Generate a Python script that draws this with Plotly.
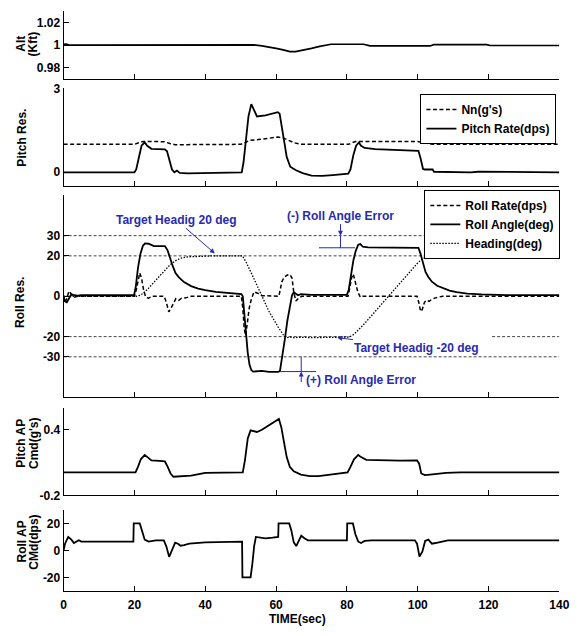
import plotly.graph_objects as go

W, H = 585, 636
FONT = "Liberation Sans, Arial, sans-serif"
BLUE = "#2a2ab0"

# ---------------- time histories ----------------
ALT_T = [0, 0.8, 1.6, 14.5, 15, 20.8, 21.3, 33.3, 33.8, 50.5, 51.5, 53.7, 56, 58, 60, 62, 63.9,
         65.5, 67.5, 70, 72, 74, 75.5, 84.7, 86.5, 103.5, 104.5, 119.5, 120.5, 140]
ALT_V = [1.0006, 1.0008, 1.0, 1.0, 1.0005, 1.0005, 1.0, 1.0, 1.0005, 1.0005, 1.0002, 1.0002,
         0.9993, 0.9984, 0.9972, 0.9958, 0.9944, 0.9944, 0.9955, 0.9972, 0.9987, 0.9998,
         1.0008, 1.0008, 0.9993, 0.9993, 1.0004, 1.0004, 0.9997, 0.9997]

NN_T = [0, 20, 21, 22.5, 27, 28.5, 30, 31.5, 35, 40, 50, 51, 52.5, 55, 58, 60.5, 62, 63.5,
        65, 67, 75, 80.5, 81.5, 82.5, 90, 100, 101.5, 103, 104.5, 140]
NN_V = [1.0, 1.0, 1.05, 1.1, 1.1, 1.09, 1.03, 0.99, 0.99, 1.0, 1.0, 1.05, 1.14, 1.17, 1.22,
        1.26, 1.23, 1.14, 1.06, 1.0, 1.0, 1.0, 1.06, 1.1, 1.1, 1.1, 1.07, 1.02, 1.0, 1.0]

PR_T = [0, 20, 20.5, 21.3, 22, 22.9, 23.6, 24.8, 28.6, 29.2, 29.8, 30.6, 31.3, 32, 32.8, 35,
        39, 45, 50.3, 50.8, 51.5, 52.2, 53, 53.6, 54.6, 57, 60.5, 61, 61.6, 62.3, 63, 64,
        65.5, 67.5, 70, 73, 76, 80.4, 81, 81.8, 82.6, 83.4, 84, 85, 88, 95, 100.2, 100.8,
        101.5, 102, 104.2, 104.6, 110, 115, 117, 140]
PR_V = [0, 0, 0.1, 0.55, 0.95, 1.07, 0.95, 0.84, 0.82, 0.75, 0.45, 0.1, 0.0, 0.06, -0.02,
        -0.04, -0.03, 0.0, 0.0, 0.35, 1.2, 2.0, 2.44, 2.25, 2.0, 2.04, 2.15, 2.1, 1.7, 1.1,
        0.55, 0.2, 0.08, -0.03, -0.12, -0.13, -0.1, -0.05, 0.1, 0.6, 0.95, 1.07, 0.95, 0.87,
        0.83, 0.8, 0.77, 0.5, 0.12, 0.1, 0.1, 0.02, 0.0, 0.0, 0.02, 0.0]

RR_T = [0, 0.4, 0.9, 1.5, 2.2, 3, 4, 20, 20.5, 21, 21.5, 22, 22.6, 23.2, 24, 25, 28.4, 29,
        29.7, 30.3, 31, 31.7, 32.5, 33.3, 34.5, 36, 50.2, 50.6, 51, 51.4, 51.9, 52.4, 53,
        53.8, 54.8, 56, 60.8, 61.2, 61.6, 62.3, 63.2, 63.9, 64.5, 65, 65.6, 66.3, 67.3, 70,
        80.3, 80.8, 81.3, 81.8, 82.4, 83.1, 83.8, 84.5, 99.8, 100.3, 100.8, 101.3, 101.9,
        102.5, 103.2, 104, 105, 107, 140]
RR_V = [0, -3, -1, 2.5, 1, -0.5, 0, 0, 3, 8, 11.5, 9, 3, -0.5, -1, 0, 0, -3, -7.7, -6, -3.5,
        -1.2, -2, -1, -0.8, 0, 0, -6, -16, -19.5, -13, -6, -1.5, 2.2, 1.5, 0.3, 0, 3.5, 7,
        9.5, 10.5, 10.8, 9, 2, -2.4, -1, 0, 0, 0, 4, 9, 11, 7, 2, -0.5, 0, 0, -3, -7.5, -6.5,
        -3, -2, -2.5, -1.5, -0.8, 0, 0]

RA_T = [0, 0.4, 0.9, 1.5, 2.2, 3, 4, 5, 19.9, 20.4, 21, 21.7, 22.4, 23, 24, 25.5, 28.6, 29.3,
        30, 30.8, 31.6, 32.5, 34, 36, 38, 40, 43, 46, 50.2, 50.6, 51, 51.5, 52, 52.5, 53,
        53.5, 56, 58, 60.6, 61.1, 61.8, 62.5, 63.2, 63.9, 64.5, 65, 65.5, 66.2, 67, 70, 75,
        80, 80.5, 81.1, 81.8, 82.5, 83.2, 83.8, 84.5, 86, 90, 95, 100.2, 100.8, 101.5,
        102.2, 103, 104, 105.5, 107, 109, 111, 114, 118, 125, 140]
RA_V = [-0.5, -2.5, -3, -1, 1, 0.5, 0.3, 0.5, 0.5, 5, 14, 21, 25, 26.2, 26, 24.8, 24.8, 23,
        19, 15, 11.5, 9.5, 7, 5, 3.8, 3, 2.2, 1.6, 1.1, 0, -8, -19, -28, -34, -36.5, -37.3,
        -37, -37.5, -37.5, -37, -30, -21, -12, -4, 0.5, 2, 1.5, 0.5, 1, 0.7, 0.7, 0.7, 3,
        10, 17.5, 22.5, 25.5, 25.8, 24.5, 24.2, 24.2, 24.2, 24, 21, 16, 12, 9.5, 7.2, 5.2,
        4, 2.8, 2, 1.3, 0.9, 0.6, 0.6]

HD_T = [0, 20.5, 21.5, 22.5, 24, 26, 28, 30, 31.5, 33, 35, 38, 42, 50.5, 51.5, 53, 55.5, 58,
        60.5, 62, 63, 64, 65, 67, 70, 75, 80.5, 81.5, 82.5, 85, 88, 91, 94, 97, 100, 101.5,
        103, 105, 108, 140]
HD_V = [0, 0, 0.4, 1.5, 4, 8, 12, 15.5, 17.5, 18.8, 19.5, 19.8, 20, 20, 17, 11.5, 2, -7.5,
        -15, -19, -20.6, -20.2, -20.5, -20.3, -20.5, -20.3, -20.2, -19.5, -18, -13.5, -7.5,
        -1.5, 4.5, 10.5, 16.5, 18.8, 19.6, 19.9, 20, 20]

PAP_T = [0, 20.3, 21, 21.8, 22.9, 23.6, 24.8, 27, 28.6, 29.4, 30.2, 31, 33, 36, 40, 50.6,
         51.2, 52, 52.8, 53.4, 54.6, 56, 58, 60.8, 61.5, 62.3, 63, 63.9, 65, 67, 69.5, 72,
         76, 80.2, 81, 82, 83.2, 84, 85.5, 90, 95, 99.8, 100.4, 101, 102, 103.5, 105, 108,
         112, 140]
PAP_V = [0.01, 0.01, 0.06, 0.13, 0.17, 0.15, 0.12, 0.115, 0.11, 0.06, 0.0, -0.03, -0.025,
         -0.02, 0.005, 0.01, 0.12, 0.32, 0.395, 0.39, 0.38, 0.40, 0.44, 0.5, 0.42, 0.28,
         0.15, 0.06, 0.02, -0.01, -0.025, -0.025, -0.01, 0.01, 0.06, 0.13, 0.17, 0.15, 0.125,
         0.12, 0.118, 0.12, 0.09, 0.0, -0.015, -0.01, -0.005, 0.005, 0.01, 0.01]

RAP_T = [0, 0.4, 1.3, 2.2, 2.9, 3.6, 4.3, 5, 19.7, 19.8, 21.5, 22.2, 22.9, 24, 26, 28.3, 29,
         29.8, 30.6, 31.5, 32.3, 33, 34, 35.5, 40, 50.4, 50.5, 52.8, 53.3, 53.8, 54.3, 55.5,
         57, 59, 60.6, 60.7, 63.7, 64.3, 65, 65.7, 66.4, 67.1, 68, 69, 72, 80, 80.1, 81.7,
         82.4, 83.2, 84, 85, 87, 99.2, 99.8, 100.5, 101.3, 102.1, 103, 104, 105, 106.5,
         108.5, 140]
RAP_V = [0, 5, 10, 8, 5.5, 6.5, 7.5, 6.5, 6.5, 20, 20, 14, 8, 6.5, 7.5, 7.5, 3, -4.8, 0, 5.8,
         5, 3.5, 4, 5, 6, 6.5, -20, -20, -10, 3, 10, 9.5, 9, 9.5, 10, 20, 20, 15, 6, 3.2, 7,
         11, 9, 7.5, 7.5, 7.5, 20, 20, 12, 6.5, 5.5, 7, 7.5, 7.5, 5, -4.5, -1, 7, 8, 5, 5.5,
         6.5, 7.5, 7.5]

# reference levels in the roll panel (the -20 line breaks behind its label)
REF_LEVELS = [30, 20, -20, -30]
REF_BREAK_LEVEL = -20
REF_BREAK = (81, 121)

# roll angle error markers: (time, from, to) and horizontal bar (t0, t1, level)
ERR_NEG_V = (78.2, 30, 24)
ERR_NEG_H = (72.1, 82.3, 24)
ERR_POS_V = (67.1, -30, -37.3)
ERR_POS_H = (61.1, 71.3, -37.3)

# axis settings per panel
X_TICKS = [0, 20, 40, 60, 80, 100, 120, 140]
Y_RANGES = [[0.97, 1.03], [-0.5, 3], [-50, 50], [-0.2, 0.6], [-30, 30]]
Y_TICKS = [[0.98, 1, 1.02], [0, 3], [-30, -20, 0, 20, 30], [-0.2, 0.4], [-20, 0, 20]]
Y_TICKTEXT = [["0.98", "1", "1.02"], ["0", "3"], ["-30", "-20", "0", "20", "30"],
              ["-0.2", "0.4"], ["-20", "0", "20"]]

# panel placement in pixels (top, bottom) and horizontal span
X_PX = (62, 569)
PANELS_PX = [(4, 74), (83.3, 183.3), (192.5, 399), (410, 499.3), (514.3, 597)]


def py(px):
    return 1 - px / H


fig = go.Figure()

BLACK = "black"
fig.add_trace(go.Scatter(x=ALT_T, y=ALT_V, mode="lines", line=dict(color=BLACK, width=1.7),
                         showlegend=False, xaxis="x", yaxis="y"))

fig.add_trace(go.Scatter(x=NN_T, y=NN_V, mode="lines", name="Nn(g's)",
                         line=dict(color=BLACK, width=1.5, dash="4px,2.5px"),
                         legend="legend", xaxis="x2", yaxis="y2"))
fig.add_trace(go.Scatter(x=PR_T, y=PR_V, mode="lines", name="Pitch Rate(dps)",
                         line=dict(color=BLACK, width=1.8),
                         legend="legend", xaxis="x2", yaxis="y2"))

# dashed reference levels
for lv in REF_LEVELS:
    if lv == REF_BREAK_LEVEL:
        xs = [0, REF_BREAK[0], None, REF_BREAK[1], 140]
        ys = [lv, lv, None, lv, lv]
    else:
        xs = [0, 140]
        ys = [lv, lv]
    fig.add_trace(go.Scatter(x=xs, y=ys, mode="lines", showlegend=False, hoverinfo="skip",
                             line=dict(color="#444444", width=1, dash="3px,2px"),
                             xaxis="x3", yaxis="y3"))

fig.add_trace(go.Scatter(x=RR_T, y=RR_V, mode="lines", name="Roll Rate(dps)",
                         line=dict(color=BLACK, width=1.5, dash="4px,2.5px"),
                         legend="legend2", xaxis="x3", yaxis="y3"))
fig.add_trace(go.Scatter(x=RA_T, y=RA_V, mode="lines", name="Roll Angle(deg)",
                         line=dict(color=BLACK, width=1.8),
                         legend="legend2", xaxis="x3", yaxis="y3"))
fig.add_trace(go.Scatter(x=HD_T, y=HD_V, mode="lines", name="Heading(deg)",
                         line=dict(color=BLACK, width=1.3, dash="1.5px,1.5px"),
                         legend="legend2", xaxis="x3", yaxis="y3"))

fig.add_trace(go.Scatter(x=PAP_T, y=PAP_V, mode="lines", line=dict(color=BLACK, width=1.8),
                         showlegend=False, xaxis="x4", yaxis="y4"))
fig.add_trace(go.Scatter(x=RAP_T, y=RAP_V, mode="lines", line=dict(color=BLACK, width=1.8),
                         showlegend=False, xaxis="x5", yaxis="y5"))

tick_font = dict(family=FONT, size=12, color="black", weight="bold")

layout = dict(
    width=W, height=H, margin=dict(l=0, r=0, t=0, b=0),
    paper_bgcolor="white", plot_bgcolor="white",
    font=dict(family=FONT, size=12, color="black", weight="bold"),
    showlegend=True,
)

x_dom = [X_PX[0] / W, X_PX[1] / W]
for i, (top, bot) in enumerate(PANELS_PX):
    n = "" if i == 0 else str(i + 1)
    layout["xaxis" + n] = dict(
        domain=x_dom, anchor="y" + n, range=[0, 140], tickvals=X_TICKS,
        ticktext=[str(v) for v in X_TICKS], showticklabels=(i == 4),
        ticks="inside", ticklen=5, tickwidth=1, tickcolor="black",
        showline=True, linecolor="black", linewidth=1, mirror=False,
        showgrid=False, zeroline=False, tickfont=tick_font, ticklabelstandoff=3,
    )
    layout["yaxis" + n] = dict(
        domain=[py(bot), py(top)], anchor="x" + n, range=Y_RANGES[i],
        tickvals=Y_TICKS[i], ticktext=Y_TICKTEXT[i],
        ticks="inside", ticklen=5, tickwidth=1, tickcolor="black",
        showline=True, linecolor="black", linewidth=1, mirror=False,
        showgrid=False, zeroline=False, tickfont=tick_font,
    )

legend_style = dict(bgcolor="white", bordercolor="black", borderwidth=1,
                    font=dict(family=FONT, size=12, color="black", weight="bold"),
                    xanchor="right", yanchor="top", tracegroupgap=0, itemwidth=30)
layout["legend"] = dict(x=566 / W, y=py(89), **legend_style)
layout["legend2"] = dict(x=570 / W, y=py(187), **legend_style)

ann = []
lab_font = dict(family=FONT, size=12, color="black", weight="bold")


def ylab(text, xpx, ypx):
    ann.append(dict(text=text, x=xpx / W, y=py(ypx), xref="paper", yref="paper",
                    showarrow=False, textangle=-90, xanchor="center", yanchor="middle",
                    font=lab_font))


ylab("Alt", 19, 38)
ylab("(Kft)", 31, 38)
ylab("Pitch Res.", 19, 134)
ylab("Roll Res.", 18, 302)
ylab("Pitch AP", 19, 446)
ylab("Cmd(g's)", 31.5, 446)
ylab("Roll AP", 19, 547)
ylab("CMd(dps)", 31.5, 547)

ann.append(dict(text="TIME(sec)", x=301 / W, y=py(626), xref="paper", yref="paper",
                showarrow=False, xanchor="center", yanchor="middle", font=lab_font))

blue_font = dict(family=FONT, size=12, color=BLUE, weight="bold")
ann.append(dict(text="Target Headig 20 deg", x=42.7, y=21.2, xref="x3", yref="y3",
                ax=-38.7, ay=-33.7, showarrow=True, arrowhead=2, arrowsize=1,
                arrowwidth=1, arrowcolor=BLUE, font=blue_font, standoff=0))
ann.append(dict(text="Target Headig -20 deg", x=77.3, y=-20.5, xref="x3", yref="y3",
                ax=79, ay=10, showarrow=True, arrowhead=2, arrowsize=1,
                arrowwidth=1, arrowcolor=BLUE, font=blue_font, standoff=0))
ann.append(dict(text="(-) Roll Angle Error", x=ERR_NEG_V[0], y=ERR_NEG_V[1], xref="x3",
                yref="y3", ax=0, ay=-20, showarrow=True, arrowhead=2, arrowsize=1,
                arrowwidth=1, arrowcolor=BLUE, font=blue_font, standoff=0))
ann.append(dict(text="", x=ERR_POS_V[0], y=ERR_POS_V[2], xref="x3", yref="y3",
                ax=0, ay=12, showarrow=True, arrowhead=2, arrowsize=1,
                arrowwidth=1, arrowcolor=BLUE, standoff=0))
ann.append(dict(text="(+) Roll Angle Error", x=84.1, y=-41.3, xref="x3", yref="y3",
                showarrow=False, font=blue_font, xanchor="center", yanchor="middle"))
layout["annotations"] = ann

shapes = []
for (tx, a, b) in (ERR_NEG_V, ERR_POS_V):
    shapes.append(dict(type="line", xref="x3", yref="y3", x0=tx, x1=tx, y0=a, y1=b,
                       line=dict(color=BLUE, width=1)))
for (t0, t1, lv) in (ERR_NEG_H, ERR_POS_H):
    shapes.append(dict(type="line", xref="x3", yref="y3", x0=t0, x1=t1, y0=lv, y1=lv,
                       line=dict(color=BLUE, width=1)))
layout["shapes"] = shapes

fig.update_layout(**layout)
fig.write_html("out.html")
